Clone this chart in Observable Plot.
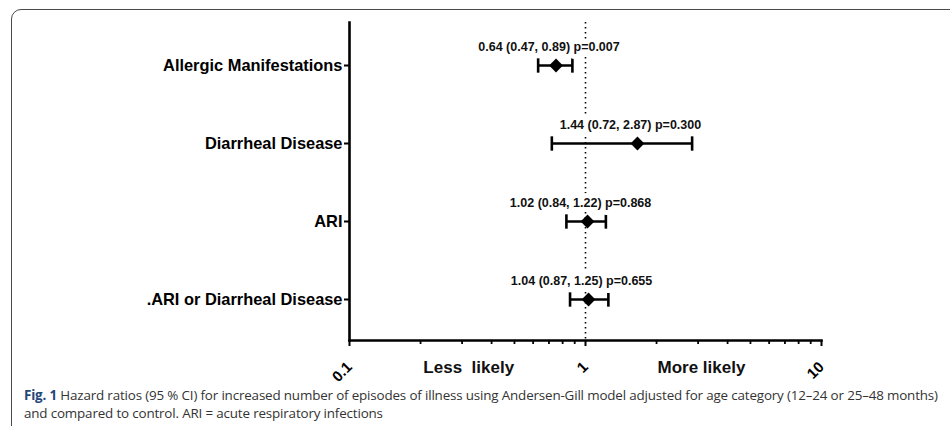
<!DOCTYPE html>
<html>
<head>
<meta charset="utf-8">
<script src="https://cdn.jsdelivr.net/npm/d3@7"></script>
<script src="https://cdn.jsdelivr.net/npm/@observablehq/plot@0.6"></script>
<style>
  html, body { margin: 0; padding: 0; background: #fff; }
  #wrap { position: relative; width: 950px; height: 426px; overflow: hidden; background: #fff; }
  #frame { position: absolute; left: 11px; top: 9px; width: 960px; height: 440px; border: 1.6px solid #4a4a4a; border-radius: 10px; box-sizing: border-box; }
  #chart { position: absolute; left: 0; top: 0; }
  #caption { position: absolute; left: 24px; top: 386px; width: 925px; font-family: "Open Sans", sans-serif; font-size: 13.4px; line-height: 18px; color: #333; white-space: nowrap; letter-spacing: -0.16px; }
  #caption b { color: #24467a; font-weight: bold; }
</style>
</head>
<body>
<div id="wrap">
  <div id="frame"></div>
  <div id="chart"></div>
  <div id="caption"></div>
</div>
<script>
// ---- data ----
const categories = ["Allergic Manifestations", "Diarrheal Disease", "ARI", ".ARI or Diarrheal Disease"];
const hr = [0.75, 1.66, 1.02, 1.03];      // plotted point (diamond)
const lo = [0.63, 0.72, 0.83, 0.86];      // lower CI cap
const hi = [0.88, 2.83, 1.22, 1.25];      // upper CI cap
const annotations = [
  "0.64 (0.47, 0.89) p=0.007",
  "1.44 (0.72, 2.87) p=0.300",
  "1.02 (0.84, 1.22) p=0.868",
  "1.04 (0.87, 1.25) p=0.655"
];
const majorTicks = [0.1, 1, 10];
const majorTickLabels = ["0.1", "1", "10"];
const sideLabels = ["Less  likely", "More likely"];
const sideLabelAt = [0.32, 3.1];
const referenceValue = [1];
const captionLead = "Fig. 1";
const captionLines = [
  "Hazard ratios (95 % CI) for increased number of episodes of illness using Andersen-Gill model adjusted for age category (12\u201324 or 25\u201348 months)",
  "and compared to control. ARI = acute respiratory infections"
];

const rows = categories.map((c, i) => ({cat: c, hr: hr[i], lo: lo[i], hi: hi[i], ann: annotations[i]}));
const minorTicks = d3.scaleLog().domain([0.1, 10]).ticks().filter(t => !majorTicks.some(m => Math.abs(m - t) < 1e-9));

const capSymbol = {
  draw(ctx, size) {
    const h = Math.sqrt(size) * 0.9;
    ctx.moveTo(0, -h); ctx.lineTo(0, h);
  }
};

const font = "'Liberation Sans', Arial, sans-serif";

const chart = Plot.plot({
  width: 950,
  height: 385,
  marginLeft: 349,
  marginRight: 129,
  marginTop: 22,
  marginBottom: 45,
  style: {fontFamily: font, color: "#000", background: "transparent", overflow: "visible"},
  x: {type: "log", domain: [0.1, 10]},
  y: {type: "point", domain: categories, range: [64, 300], padding: 0},
  marks: [
    // reference line at HR = 1
    Plot.ruleX(referenceValue, {stroke: "#000", strokeWidth: 1.6, strokeDasharray: "1.6,3.4"}),
    // axes lines
    Plot.frame({anchor: "left", stroke: "#000", strokeWidth: 2.6}),
    Plot.frame({anchor: "bottom", stroke: "#000", strokeWidth: 2.6}),
    // minor ticks
    Plot.axisX({ticks: minorTicks, tickSize: 4, text: null, strokeWidth: 1.8}),
    // major ticks and labels
    Plot.axisX({
      ticks: majorTicks,
      tickSize: 6,
      tickFormat: (d) => majorTickLabels[majorTicks.indexOf(d)],
      tickRotate: -45,
      tickPadding: 18,
      fontSize: 15,
      fontWeight: "bold",
      strokeWidth: 2,
      label: null
    }),
    Plot.axisY({tickSize: 5, tickPadding: 2, fontSize: 16.4, fontWeight: "bold", strokeWidth: 2, label: null}),
    // confidence intervals
    Plot.link(rows, {x1: "lo", x2: "hi", y1: "cat", y2: "cat", stroke: "#000", strokeWidth: 2.6}),
    Plot.dot(rows, {x: "lo", y: "cat", symbol: capSymbol, r: 4.5, stroke: "#000", strokeWidth: 2.6, fill: "none"}),
    Plot.dot(rows, {x: "hi", y: "cat", symbol: capSymbol, r: 4.5, stroke: "#000", strokeWidth: 2.6, fill: "none"}),
    // point estimate
    Plot.dot(rows, {x: "hr", y: "cat", symbol: "diamond2", r: 6.2, fill: "#000", stroke: "none"}),
    // annotations (white halo hides the dotted reference line)
    Plot.text(rows, {x: "hr", y: "cat", text: "ann", dy: -19, dx: -7, fontSize: 12.5, fontWeight: "bold", fill: "#111", stroke: "#fff", strokeWidth: 10}),
    // side labels
    Plot.text(sideLabels, {x: (d, i) => sideLabelAt[i], text: (d) => d, frameAnchor: "bottom", dy: 32, fontSize: 17, fontWeight: "bold", fill: "#111"})
  ]
});
document.getElementById("chart").appendChild(chart);

const cap = document.getElementById("caption");
cap.innerHTML = "<div><b>" + captionLead + "</b> " + captionLines[0] + "</div><div>" + captionLines[1] + "</div>";
</script>
</body>
</html>
